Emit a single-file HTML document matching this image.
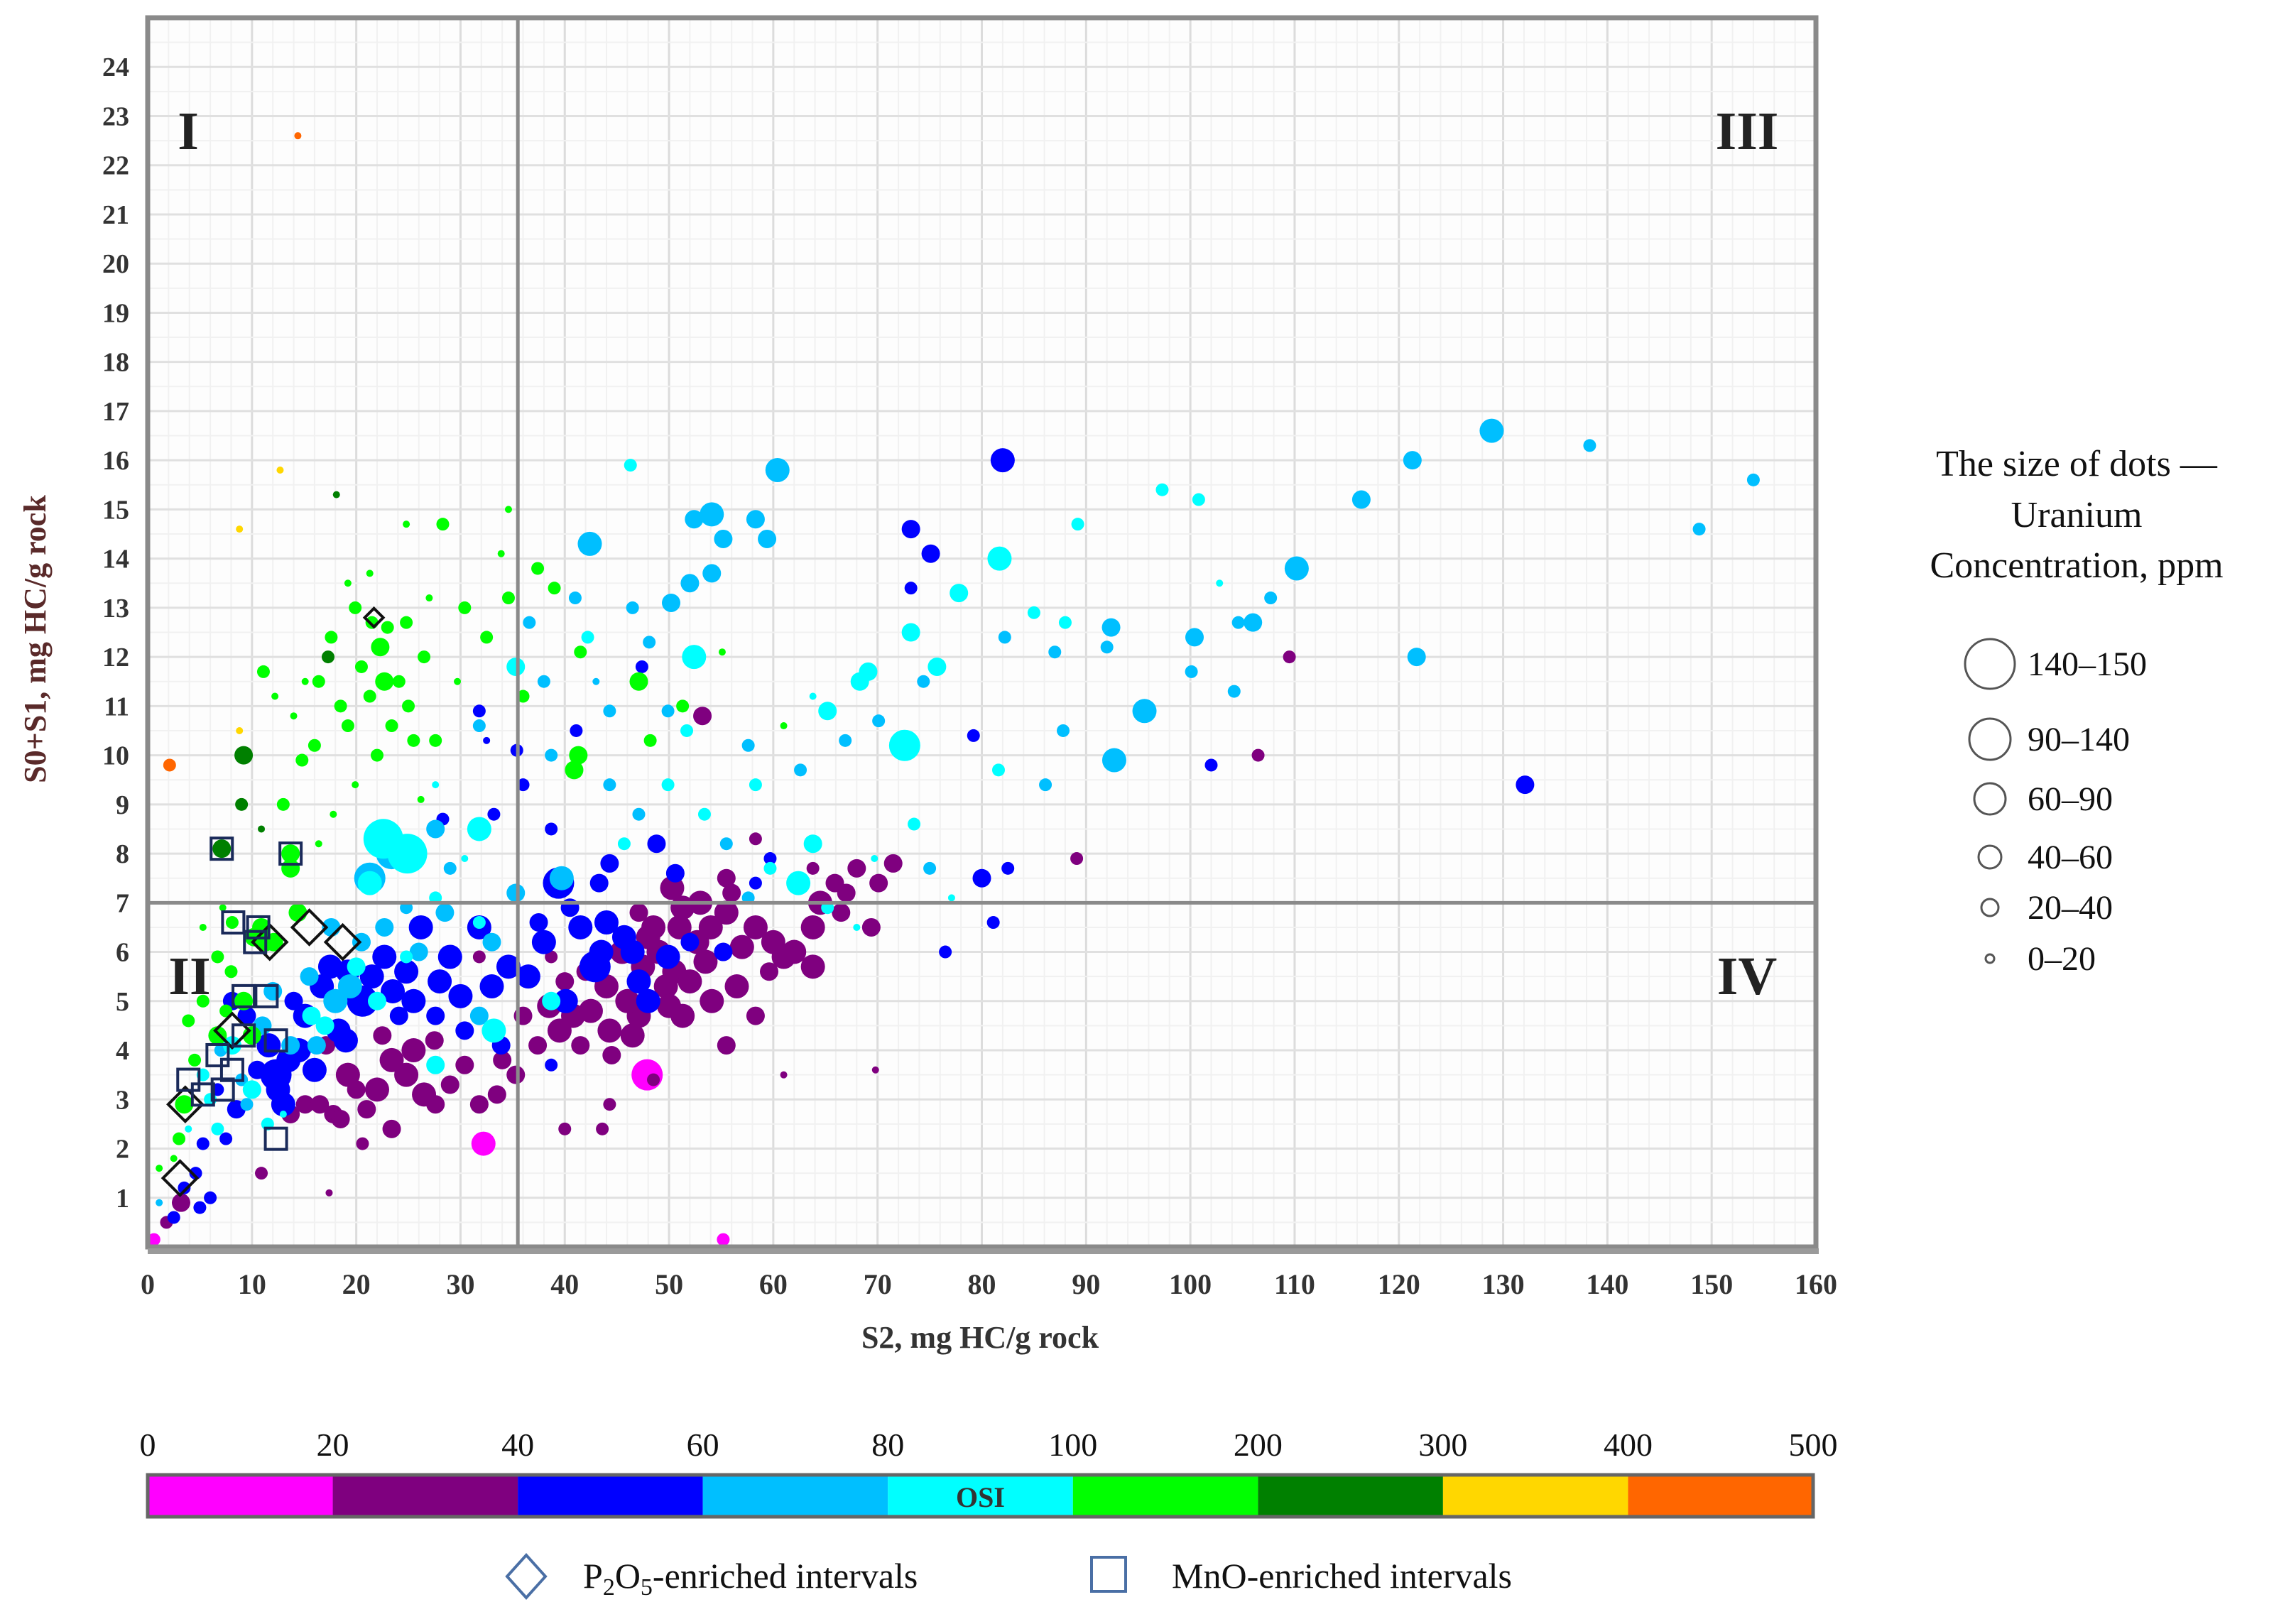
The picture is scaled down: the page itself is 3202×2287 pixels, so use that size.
<!DOCTYPE html>
<html><head><meta charset="utf-8">
<style>
html,body{margin:0;padding:0;background:#fff;}
svg{display:block;font-family:"Liberation Serif",serif;}
</style></head>
<body>
<svg id="chart" width="3202" height="2287" viewBox="0 0 3202 2287" xmlns="http://www.w3.org/2000/svg">
<g id="grid"></g>
<g id="dots"></g>
<g id="marks"></g>
<g id="axes"></g>
<g id="cbar"></g>
<g font-size="52" fill="#111">
  <text x="2924" y="670" text-anchor="middle">The size of dots —</text>
  <text x="2924" y="742" text-anchor="middle">Uranium</text>
  <text x="2924" y="813" text-anchor="middle">Concentration, ppm</text>
</g>
<g id="sizeLeg"></g>
<g font-size="50" fill="#111">
  <path d="M741,2190 L768,2220 L741,2250 L714,2220 Z" fill="none" stroke="#4a6fa5" stroke-width="4"/>
  <text x="821" y="2236">P<tspan font-size="34" dy="10">2</tspan><tspan dy="-10">O</tspan><tspan font-size="34" dy="10">5</tspan><tspan dy="-10">-enriched intervals</tspan></text>
  <rect x="1537" y="2193" width="48" height="48" fill="none" stroke="#4a6fa5" stroke-width="4"/>
  <text x="1650" y="2236">MnO-enriched intervals</text>
</g>
</svg>
<script>
// ---- data: [S2, S0+S1, uraniumSizeClass] per OSI class ----
const osiBinLabels = ["0","20","40","60","80","100","200","300","400","500"];
const osiColors = ["#ff00ff","#7f007f","#0000ff","#00bfff","#00ffff","#00ff00","#008000","#ffd700","#ff6600"];
const sizeLabels = ["0–20","20–40","40–60","60–90","90–140","140–150"];
const xTicks = [0,10,20,30,40,50,60,70,80,90,100,110,120,130,140,150,160];
const yTicks = [1,2,3,4,5,6,7,8,9,10,11,12,13,14,15,16,17,18,19,20,21,22,23,24];

const osi0 = [[47.9,3.5,4],[32.2,2.1,3],[55.2,0.15,1],[0.6,0.15,1]];
const osi1 = [[50.3,7.3,3],[55.5,7.5,2],[51.3,6.9,3],[48.5,6.5,3],[52.7,6.2,3],[55.5,6.8,3],[58.3,6.5,3],[49.7,5.3,3],[54.1,5.0,3],[58.3,4.7,2],[55.5,4.1,2],[61.0,5.9,3],[63.8,6.5,3],[65.9,7.4,2],[68.0,7.7,2],[70.1,7.4,2],[71.5,7.8,2],[69.4,6.5,2],[63.8,5.7,3],[59.6,5.6,2],[51.3,4.7,3],[47.1,4.7,3],[44.3,4.4,3],[40.8,4.7,3],[41.5,4.1,2],[37.4,4.1,2],[35.3,3.5,2],[31.8,2.9,2],[27.6,2.9,2],[24.8,3.5,3],[23.4,3.8,3],[22.0,3.2,3],[19.2,3.5,3],[17.1,4.1,2],[15.1,2.9,2],[13.7,2.7,2],[17.8,2.7,2],[20.6,2.1,1],[23.4,2.4,2],[30.4,3.7,2],[36.0,4.7,2],[40.0,2.4,1],[43.6,2.4,1],[44.3,2.9,1],[48.5,3.4,1],[61.0,3.5,0],[69.8,3.6,0],[17.4,1.1,0],[10.9,1.5,1],[3.2,0.9,2],[1.8,0.5,1],[53.2,10.8,2],[109.5,12.0,1],[106.5,10.0,1],[89.1,7.9,1],[38.7,5.9,1],[47.1,6.8,2],[58.3,8.3,1],[63.8,7.7,1],[31.8,5.9,1],
 [46.0,5.0,3],[44.0,5.3,3],[42.5,4.8,3],[49.0,6.0,3],[50.5,5.6,3],[52.0,5.4,3],[53.5,5.8,3],[56.5,5.3,3],[57.0,6.1,3],[60.0,6.2,3],[62.0,6.0,3],[64.5,7.0,3],[66.5,6.8,2],[67.0,7.2,2],[45.5,6.0,3],[47.5,5.7,3],[48.0,6.3,3],[51.0,6.5,3],[54.0,6.5,3],[56.0,7.2,2],[53.0,7.0,3],[50.0,4.9,3],[46.5,4.3,3],[44.5,3.9,2],[39.5,4.4,3],[38.5,4.9,3],[25.5,4.0,3],[26.5,3.1,3],[21.0,2.8,2],[20.0,3.2,2],[27.5,4.2,2],[29.0,3.3,2],[33.5,3.1,2],[34.0,3.8,2],[42.0,5.6,2],[40.0,5.4,2],[22.5,4.3,2],[18.5,2.6,2],[16.5,2.9,2]];
const osi2 = [[82.0,16.0,3],[73.2,14.6,2],[75.1,14.1,2],[73.2,13.4,1],[47.4,11.8,1],[132.1,9.4,2],[102.0,9.8,1],[79.2,10.4,1],[80.0,7.5,2],[82.5,7.7,1],[81.1,6.6,1],[76.5,6.0,1],[31.8,10.9,1],[35.4,10.1,1],[41.1,10.5,1],[32.5,10.3,0],[36.0,9.4,1],[33.2,8.8,1],[39.4,7.4,4],[43.3,7.4,2],[44.3,7.8,2],[50.6,7.6,2],[48.8,8.2,2],[38.0,6.2,3],[41.5,6.5,3],[42.9,5.7,4],[47.1,5.4,3],[49.9,5.9,3],[45.7,6.3,3],[40.1,5.0,3],[52.0,6.2,2],[55.2,6.0,2],[34.6,5.7,3],[31.8,6.5,3],[29.0,5.9,3],[26.2,6.5,3],[24.8,5.6,3],[22.7,5.9,3],[20.6,5.0,4],[19.2,5.6,3],[18.3,4.4,3],[16.7,5.3,3],[15.1,4.7,3],[12.3,3.5,4],[13.0,2.9,3],[11.6,4.1,3],[9.5,4.7,2],[8.1,5.0,2],[6.7,3.2,1],[5.3,2.1,1],[4.6,1.5,1],[3.5,1.2,1],[2.5,0.6,1],[33.9,4.1,2],[30.4,4.4,2],[38.7,3.7,1],[27.6,4.7,2],[24.1,4.7,2],[58.3,7.4,1],[59.7,7.9,1],[38.7,8.5,1],[28.3,8.7,1],
 [13.5,3.8,3],[14.5,4.0,3],[12.5,3.2,3],[17.5,5.7,3],[21.5,5.5,3],[23.5,5.2,3],[25.5,5.0,3],[28.0,5.4,3],[30.0,5.1,3],[33.0,5.3,3],[36.5,5.5,3],[43.5,6.0,3],[44.0,6.6,3],[46.5,6.0,3],[48.0,5.0,3],[19.0,4.2,3],[16.0,3.6,3],[14.0,5.0,2],[10.5,3.6,2],[8.5,2.8,2],[7.5,2.2,1],[6.0,1.0,1],[5.0,0.8,1],[37.5,6.6,2],[40.5,6.9,2]];
const osi3 = [[60.4,15.8,3],[54.1,14.9,3],[55.2,14.4,2],[52.4,14.8,2],[58.3,14.8,2],[59.4,14.4,2],[54.1,13.7,2],[50.2,13.1,2],[48.1,12.3,1],[42.4,14.3,3],[128.9,16.6,3],[138.3,16.3,1],[154.0,15.6,1],[148.8,14.6,1],[121.3,16.0,2],[116.4,15.2,2],[110.2,13.8,3],[107.7,13.2,1],[106.0,12.7,2],[104.6,12.7,1],[121.7,12.0,2],[100.4,12.4,2],[92.4,12.6,2],[92.0,12.2,1],[95.6,10.9,3],[92.7,9.9,3],[87.8,10.5,1],[86.1,9.4,1],[104.2,11.3,1],[100.1,11.7,1],[82.2,12.4,1],[87.0,12.1,1],[74.4,11.5,1],[70.1,10.7,1],[66.9,10.3,1],[62.6,9.7,1],[57.6,10.2,1],[49.9,10.9,1],[44.3,10.9,1],[44.3,9.4,1],[39.7,7.5,3],[35.3,7.2,2],[29.0,7.7,1],[24.8,6.9,1],[21.3,7.5,4],[27.6,8.5,2],[23.4,8.0,4],[17.6,6.5,2],[19.4,5.3,3],[16.2,4.1,2],[13.7,4.1,2],[22.7,6.5,2],[31.8,4.7,2],[9.5,2.9,1],[1.1,0.9,0],[31.8,10.6,1],[38.7,10.0,1],[38.0,11.5,1],[36.6,12.7,1],[43.0,11.5,0],[47.1,8.8,1],[55.5,8.2,1],[57.6,7.1,1],[75.0,7.7,1],
 [11.0,4.5,2],[12.0,5.2,2],[18.0,5.0,3],[20.5,6.2,2],[26.0,6.0,2],[28.5,6.8,2],[33.0,6.2,2],[7.0,4.0,1],[9.0,3.4,1],[15.5,5.5,2],[41.0,13.2,1],[46.5,13.0,1],[52.0,13.5,2]];
const osi4 = [[46.3,15.9,1],[22.6,8.3,5],[24.9,8.0,5],[21.3,7.4,3],[31.8,8.5,3],[35.3,11.8,2],[42.2,12.4,1],[51.7,10.5,1],[52.4,12.0,3],[58.3,9.4,1],[59.7,7.7,1],[63.8,8.2,2],[65.2,10.9,2],[68.3,11.5,2],[69.1,11.7,2],[72.6,10.2,4],[73.2,12.5,2],[75.7,11.8,2],[77.8,13.3,2],[81.7,14.0,3],[85.0,12.9,1],[88.0,12.7,1],[89.2,14.7,1],[97.3,15.4,1],[100.8,15.2,1],[102.8,13.5,0],[65.2,6.9,1],[69.7,7.9,0],[73.5,8.6,1],[81.6,9.7,1],[30.4,7.9,0],[27.6,9.4,0],[31.8,6.6,1],[38.7,5.0,2],[27.6,3.7,2],[33.2,4.4,3],[22.0,5.0,2],[15.7,4.7,2],[8.1,4.1,2],[5.3,3.5,1],[3.9,2.4,0],[6.7,2.4,1],[13.0,2.7,0],[24.8,5.9,1],[27.6,7.1,1],[62.4,7.4,3],[49.9,9.4,1],[53.4,8.8,1],[45.7,8.2,1],[63.8,11.2,0],[68.0,6.5,0],[77.1,7.1,0],
 [10.0,3.2,2],[6.0,3.0,1],[11.5,2.5,1],[17.0,4.5,2],[20.0,5.7,2]];
const osi5 = [[11.1,11.7,1],[16.4,11.5,1],[17.6,12.4,1],[19.9,13.0,1],[21.5,12.7,1],[22.3,12.2,2],[22.7,11.5,2],[24.1,11.5,1],[24.8,12.7,1],[23.4,10.6,1],[21.3,11.2,1],[19.2,10.6,1],[25.5,10.3,1],[27.6,10.3,1],[28.3,14.7,1],[24.8,14.7,0],[30.4,13.0,1],[32.5,12.4,1],[34.6,15.0,0],[34.6,13.2,1],[37.4,13.8,1],[39.0,13.4,1],[41.5,12.1,1],[41.3,10.0,2],[40.9,9.7,2],[47.1,11.5,2],[48.2,10.3,1],[51.3,11.0,1],[55.1,12.1,0],[61.0,10.6,0],[17.8,8.8,0],[13.7,7.7,2],[8.1,6.6,1],[10.2,6.3,2],[10.9,6.5,2],[12.1,6.2,2],[14.4,6.8,2],[6.7,5.9,1],[5.3,5.0,1],[3.9,4.6,1],[6.7,4.3,2],[9.2,5.0,2],[10.0,4.3,2],[3.5,2.9,2],[13.0,9.0,1],[14.8,9.9,1],[12.2,11.2,0],[16.4,8.2,0],[19.9,9.4,0],[22.0,10.0,1],[26.2,9.1,0],[29.7,11.5,0],[36.0,11.2,1],[33.9,14.1,0],[19.2,13.5,0],[21.3,13.7,0],[15.1,11.5,0],[5.3,6.5,0],[2.5,1.8,0],[1.1,1.6,0],[7.2,6.9,0],[13.7,8.0,2],[11.3,6.2,2],
 [20.5,11.8,1],[23.0,12.6,1],[18.5,11.0,1],[25.0,11.0,1],[26.5,12.0,1],[16.0,10.2,1],[14.0,10.8,0],[27.0,13.2,0],[8.0,5.6,1],[7.5,4.8,1],[4.5,3.8,1],[3.0,2.2,1]];
const osi6 = [[7.1,8.1,2],[9.2,10.0,2],[9.0,9.0,1],[17.3,12.0,1],[18.1,15.3,0],[10.9,8.5,0]];
const osi7 = [[12.7,15.8,0],[8.8,10.5,0],[8.8,14.6,0]];
const osi8 = [[2.1,9.8,1],[14.4,22.6,0]];
const osiSeries = [osi0,osi1,osi2,osi3,osi4,osi5,osi6,osi7,osi8];

const p2o5Points = [[21.7,12.8,0],[15.5,6.5,1],[11.7,6.2,1],[18.7,6.2,1],[8.1,4.4,1],[3.6,2.9,1],[3.1,1.4,1]];
const mnoPoints = [[7.1,8.1],[13.7,8.0],[8.2,6.6],[10.6,6.5],[9.2,5.1],[11.4,5.1],[9.2,4.3],[12.3,4.2],[6.7,3.9],[8.1,3.6],[3.9,3.4],[5.3,3.1],[7.2,3.2],[12.3,2.2],[10.3,6.2]];

// ---- layout ----
const L=208,R=2557,T=25,B=1756, XMAX=160, YMAX=25;
const xs=v=>L+(v/XMAX)*(R-L);
const ys=v=>B-(v/YMAX)*(B-T);
const rad=[5,9,13,17,22,28];
const NS="http://www.w3.org/2000/svg";
function mk(tag,attrs,parent){const e=document.createElementNS(NS,tag);for(const k in attrs)e.setAttribute(k,attrs[k]);parent.appendChild(e);return e;}

const grid=document.getElementById('grid');
mk('rect',{x:L,y:T,width:R-L,height:B-T,fill:'#fdfdfd'},grid);
for(let v=0;v<=XMAX;v+=2){const ln=mk('line',{x1:xs(v),x2:xs(v),y1:T,y2:B,stroke:v%10===0?'#dcdcdc':'#f1f1f1','stroke-width':v%10===0?3:2},grid);

}
for(let v=0;v<=YMAX;v+=0.5){const ln=mk('line',{x1:L,x2:R,y1:ys(v),y2:ys(v),stroke:Number.isInteger(v)?'#e0e0e0':'#f1f1f1','stroke-width':Number.isInteger(v)?3:2},grid);

}

const dots=document.getElementById('dots');
osiSeries.forEach((ser,ci)=>{ser.forEach(p=>{
  const c=mk('circle',{cx:xs(p[0]),cy:ys(p[1]),r:rad[p[2]],fill:osiColors[ci]},dots);
  
  
});});

const marks=document.getElementById('marks');
p2o5Points.forEach(p=>{const cx=xs(p[0]),cy=ys(p[1]),s=p[2]?24:13;
  const d=mk('path',{d:`M${cx},${cy-s} L${cx+s},${cy} L${cx},${cy+s} L${cx-s},${cy} Z`,fill:'none',stroke:'#111','stroke-width':4},marks);
  
  });
mnoPoints.forEach(p=>{const cx=xs(p[0]),cy=ys(p[1]);
  const r=mk('rect',{x:cx-15,y:cy-15,width:30,height:30,fill:'none',stroke:'#1a2a5a','stroke-width':4},marks);
  
  });

const axes=document.getElementById('axes');
const dv=mk('line',{x1:xs(35.5),x2:xs(35.5),y1:T,y2:B,stroke:'#8a8a8a','stroke-width':5},axes);


const dh=mk('line',{x1:L,x2:R,y1:ys(7),y2:ys(7),stroke:'#8a8a8a','stroke-width':5},axes);


const fr=mk('rect',{x:L,y:T,width:R-L,height:B-T,fill:'none',stroke:'#8a8a8a','stroke-width':7},axes);


mk('line',{x1:L,x2:R+4,y1:B+6,y2:B+6,stroke:'#9a9a9a','stroke-width':8},axes);
xTicks.forEach(v=>{const t=mk('text',{x:xs(v),y:1822,'text-anchor':'middle','font-size':40,'font-weight':'bold',fill:'#333'},axes);t.textContent=v;

});
yTicks.forEach(v=>{const t=mk('text',{x:182,y:ys(v)+13,'text-anchor':'end','font-size':38,'font-weight':'bold',fill:'#333'},axes);t.textContent=v;

});
const xt=mk('text',{x:1380,y:1898,'text-anchor':'middle','font-size':44,'font-weight':'bold',fill:'#333'},axes);xt.textContent='S2, mg HC/g rock';


const yt=mk('text',{x:0,y:0,'text-anchor':'middle','font-size':44,'font-weight':'bold',fill:'#5a2a2a',transform:'translate(64,900) rotate(-90)'},axes);yt.textContent='S0+S1, mg HC/g rock';


[['I',265,210],['III',2460,210],['II',267,1400],['IV',2460,1400]].forEach(q=>{const t=mk('text',{x:q[1],y:q[2],'text-anchor':'middle','font-size':76,'font-weight':'bold',fill:'#222'},axes);t.textContent=q[0];

});

const cb=document.getElementById('cbar');
const CL=208,CR=2553,CT=2077,CB=2136,segW=(CR-CL)/osiColors.length;
osiColors.forEach((c,i)=>{const r=mk('rect',{x:CL+i*segW,y:CT,width:segW,height:CB-CT,fill:c},cb);

});
mk('rect',{x:CL,y:CT,width:CR-CL,height:CB-CT,fill:'none',stroke:'#666','stroke-width':5},cb);
osiBinLabels.forEach((l,i)=>{const t=mk('text',{x:CL+i*segW,y:2050,'text-anchor':'middle','font-size':46,fill:'#111'},cb);t.textContent=l;

});
const ot=mk('text',{x:CL+4.5*segW,y:2122,'text-anchor':'middle','font-size':40,'font-weight':'bold',fill:'#333'},cb);ot.textContent='OSI';



const sl=document.getElementById('sizeLeg');
const legY=[1350,1278,1207,1125,1041,935], legR=[6,12,16,22,29,35];
sizeLabels.forEach((l,i)=>{const c=mk('circle',{cx:2802,cy:legY[i],r:legR[i],fill:'none',stroke:'#555','stroke-width':3},sl);


const t=mk('text',{x:2855,y:legY[i]+16,'font-size':48,fill:'#111'},sl);t.textContent=l;

});
</script>
</body></html>
